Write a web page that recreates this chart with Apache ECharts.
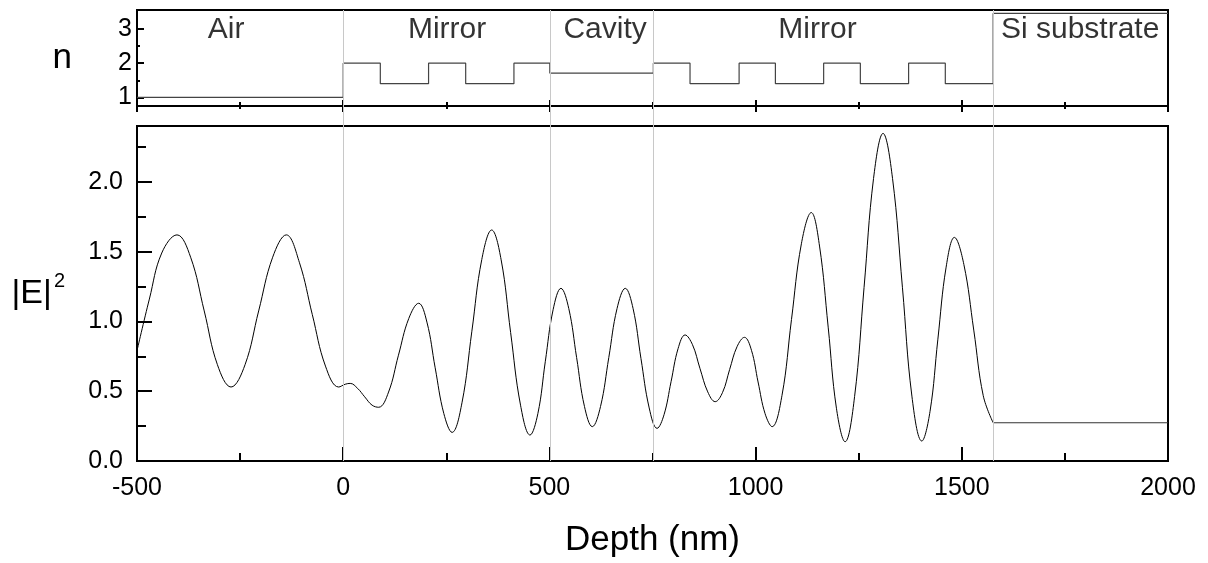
<!DOCTYPE html>
<html>
<head>
<meta charset="utf-8">
<script src="https://cdn.jsdelivr.net/npm/echarts@6/dist/echarts.min.js"></script>
<style>
  html, body { margin: 0; padding: 0; background: #fff; }
  #main { width: 1208px; height: 563px; }
</style>
</head>
<body>
<div id="main"></div>
<script>
var myChart = echarts.init(document.getElementById('main'));

// refractive index profile (layer start depth, n)
var layerEdges = [-500, 0, 90, 207, 297, 414, 501, 752, 841, 960, 1048, 1165, 1254, 1371, 1460, 1576, 2000];
var layerIndex = [1.0, 2.0, 1.4, 2.0, 1.4, 2.0, 1.71, 2.0, 1.4, 2.0, 1.4, 2.0, 1.4, 2.0, 1.4, 3.45];

// region names in the top panel
var regionNames = ['Air', 'Mirror', 'Cavity', 'Mirror', 'Si substrate'];
var regionCenters = [-284, 252, 635, 1150, 1787];

// interfaces (gray lines)
var interfaces = [0, 501, 752, 1576];

// |E|^2 vs depth
var depth = [-500, -470, -440, -403, -370, -337, -305, -272, -238, -205, -171, -138,
             -106, -75, -43, -11, 5, 17, 35, 52, 70, 86,
             110, 134, 159, 183, 203, 223, 244, 264, 288, 312, 336, 360,
             383, 406, 430, 453, 472, 490, 509, 528, 547, 566, 585, 604,
             624, 644, 664, 684, 703, 722, 742, 761, 778, 795, 812, 829,
             847, 865, 884, 902, 920, 937, 955, 973, 990, 1006, 1023, 1040,
             1064, 1087, 1111, 1135, 1155, 1176, 1196, 1217, 1240, 1263, 1286, 1309,
             1332, 1356, 1379, 1403, 1423, 1442, 1462, 1482, 1505, 1529, 1552, 1576];
var field = [0.79, 1.16, 1.49, 1.62, 1.46, 1.075, 0.69, 0.53, 0.69, 1.075, 1.46, 1.62,
             1.42, 1.05, 0.68, 0.53, 0.55, 0.556, 0.52, 0.46, 0.40, 0.385,
             0.494, 0.758, 1.021, 1.13, 0.995, 0.668, 0.34, 0.205, 0.417, 0.93, 1.443, 1.655,
             1.441, 0.92, 0.40, 0.186, 0.339, 0.711, 1.084, 1.237, 1.092, 0.741, 0.391, 0.246,
             0.391, 0.741, 1.092, 1.237, 1.091, 0.735, 0.38, 0.234, 0.332, 0.568, 0.805, 0.903,
             0.833, 0.664, 0.495, 0.425, 0.492, 0.655, 0.819, 0.886, 0.793, 0.566, 0.339, 0.246,
             0.470, 1.013, 1.556, 1.78, 1.540, 0.959, 0.378, 0.138, 0.461, 1.243, 2.024, 2.347,
             2.025, 1.245, 0.465, 0.143, 0.356, 0.873, 1.389, 1.602, 1.408, 0.938, 0.468, 0.274];
var substrateDepth = [1576, 2000];
var substrateField = [0.274, 0.274];

var nTicks = [1, 2, 3];
var nMinor = [1.5, 2.5];
var eTicks = [0, 0.5, 1.0, 1.5, 2.0];
var eMinor = [0.25, 0.75, 1.25, 1.75, 2.25];

var font = 'Liberation Sans, Arial, sans-serif';

function pairs(xs, ys) {
    var arr = [];
    for (var i = 0; i < xs.length; i++) arr.push([xs[i], ys[i]]);
    return arr;
}

var profile = pairs(layerEdges.slice(0, layerIndex.length), layerIndex);
profile.push([layerEdges[layerEdges.length - 1], layerIndex[layerIndex.length - 1]]);

var labels = [];
for (var i = 0; i < regionNames.length; i++) {
    labels.push({ name: regionNames[i], value: [regionCenters[i], 2.96] });
}

var blackLine = { onZero: false, lineStyle: { color: '#000', width: 2 } };

option = {
    animation: false,
    textStyle: { fontFamily: font },
    grid: [
        { left: 137, right: 40, top: 10, height: 96, show: true, borderColor: '#000', borderWidth: 2 },
        { left: 137, right: 40, top: 126, height: 335, show: true, borderColor: '#000', borderWidth: 2 },
        { left: 137, right: 40, top: 10, height: 451, show: false }
    ],
    xAxis: [
        {
            gridIndex: 0, type: 'value', position: 'bottom', min: -500, max: 2000, interval: 500,
            axisLine: blackLine,
            axisTick: { inside: true, length: 6, lineStyle: { color: '#000', width: 2 } },
            minorTick: { show: true, splitNumber: 2, length: 4, lineStyle: { color: '#000', width: 2 } },
            axisLabel: { show: false },
            splitLine: { show: false }
        },
        {
            gridIndex: 0, type: 'value', position: 'bottom', min: -500, max: 2000, interval: 500,
            axisLine: { show: false, onZero: false },
            axisTick: { inside: false, length: 6, lineStyle: { color: '#000', width: 2 } },
            minorTick: { show: true, splitNumber: 2, length: 3, lineStyle: { color: '#000', width: 2 } },
            axisLabel: { show: false },
            splitLine: { show: false }
        },
        {
            gridIndex: 1, type: 'value', position: 'bottom', min: -500, max: 2000, interval: 500,
            axisLine: blackLine,
            axisTick: { inside: true, length: 14, lineStyle: { color: '#000', width: 2 } },
            minorTick: { show: true, splitNumber: 2, length: 8, lineStyle: { color: '#000', width: 2 } },
            axisLabel: {
                color: '#000', fontSize: 25, margin: 15, fontFamily: font,
                formatter: function (v) { return String(v); }
            },
            splitLine: { show: false },
            name: 'Depth (nm)',
            nameLocation: 'middle',
            nameGap: 62,
            nameTextStyle: { color: '#000', fontSize: 35, fontFamily: font }
        },
        { gridIndex: 2, type: 'value', min: -500, max: 2000, show: false }
    ],
    yAxis: [
        {
            gridIndex: 0, type: 'value', position: 'left', min: 0.75, max: 3.55,
            axisLine: blackLine,
            axisTick: { inside: true, length: 7, customValues: nTicks, lineStyle: { color: '#000', width: 2 } },
            axisLabel: { color: '#000', fontSize: 25, margin: 5, customValues: nTicks, fontFamily: font },
            splitLine: { show: false },
            name: 'n',
            nameLocation: 'middle',
            nameRotate: 0,
            nameGap: 65,
            nameTextStyle: { color: '#000', fontSize: 35, fontFamily: font }
        },
        {
            gridIndex: 0, type: 'value', position: 'left', min: 0.75, max: 3.55,
            axisLine: { show: false, onZero: false },
            axisTick: { inside: true, length: 3, customValues: nMinor, lineStyle: { color: '#000', width: 2 } },
            axisLabel: { show: false },
            splitLine: { show: false }
        },
        {
            gridIndex: 1, type: 'value', position: 'left', min: 0, max: 2.4,
            axisLine: blackLine,
            axisTick: { inside: true, length: 15, customValues: eTicks, lineStyle: { color: '#000', width: 2 } },
            axisLabel: {
                color: '#000', fontSize: 25, margin: 14, customValues: eTicks, fontFamily: font,
                formatter: function (v) { return v.toFixed(1); }
            },
            splitLine: { show: false },
            name: '{a||E|}{b|2}',
            nameLocation: 'middle',
            nameRotate: 0,
            nameGap: 72,
            nameTextStyle: {
                color: '#000',
                rich: {
                    a: { fontSize: 34, fontFamily: font, color: '#000' },
                    b: { fontSize: 20, fontFamily: font, color: '#000', padding: [0, 0, 24, 2] }
                }
            }
        },
        {
            gridIndex: 1, type: 'value', position: 'left', min: 0, max: 2.4,
            axisLine: { show: false, onZero: false },
            axisTick: { inside: true, length: 9, customValues: eMinor, lineStyle: { color: '#000', width: 2 } },
            axisLabel: { show: false },
            splitLine: { show: false }
        },
        { gridIndex: 2, type: 'value', min: 0, max: 1, show: false }
    ],
    series: [
        {
            type: 'line', xAxisIndex: 3, yAxisIndex: 4, z: 1,
            data: [[-500, 0]], symbol: 'none', lineStyle: { opacity: 0 },
            markLine: {
                silent: true, symbol: ['none', 'none'], label: { show: false },
                lineStyle: { color: '#c8c8c8', type: 'solid', width: 1 },
                data: interfaces.map(function (d) { return { xAxis: d }; })
            }
        },
        {
            name: 'n', type: 'line', xAxisIndex: 0, yAxisIndex: 0, z: 3,
            step: 'end', symbol: 'none',
            lineStyle: { color: '#444', width: 1.2 },
            data: profile
        },
        {
            type: 'scatter', xAxisIndex: 0, yAxisIndex: 0, z: 4,
            symbolSize: 0,
            label: { show: true, position: 'inside', formatter: '{b}', color: '#000', fontSize: 30, fontFamily: font },
            data: labels
        },
        {
            name: '|E|2', type: 'line', xAxisIndex: 2, yAxisIndex: 2, z: 3,
            smooth: 0.4, symbol: 'none',
            lineStyle: { color: '#000', width: 1 },
            data: pairs(depth, field)
        },
        {
            type: 'line', xAxisIndex: 2, yAxisIndex: 2, z: 3,
            symbol: 'none',
            lineStyle: { color: '#333', width: 1 },
            data: pairs(substrateDepth, substrateField)
        }
    ]
};

myChart.setOption(option);
</script>
</body>
</html>
